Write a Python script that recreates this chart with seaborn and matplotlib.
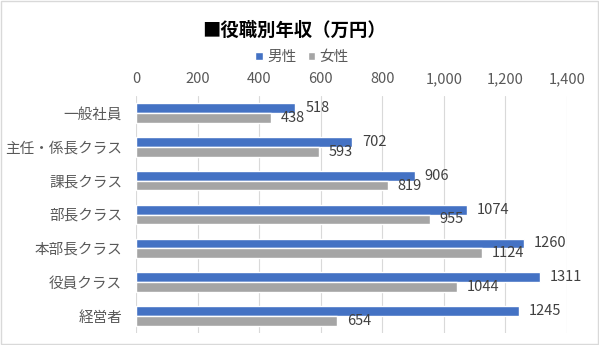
import matplotlib
matplotlib.use("Agg")
import matplotlib.pyplot as plt
import seaborn as sns
import pandas as pd
from matplotlib.ticker import FuncFormatter
from matplotlib.patches import Patch

categories = ["一般社員", "主任・係長クラス", "課長クラス", "部長クラス", "本部長クラス", "役員クラス", "経営者"]
male = [518, 702, 906, 1074, 1260, 1311, 1245]
female = [438, 593, 819, 955, 1124, 1044, 654]
series = ["男性", "女性"]
colors = ["#4472C4", "#A5A5A5"]

df = pd.DataFrame({
    "cat": categories * 2,
    "val": male + female,
    "sex": [series[0]] * len(categories) + [series[1]] * len(categories),
})

sns.set_theme(style="white")
plt.rcParams['font.family'] = ['Noto Sans CJK JP', 'DejaVu Sans']

fig = plt.figure(figsize=(5.99, 3.45), dpi=100)
ax = fig.add_axes([136/599, 1 - 333/345, (567-136)/599, (333-96)/345])

sns.barplot(data=df, x="val", y="cat", hue="sex", palette=colors, orient="h",
            width=0.58, ax=ax, legend=False, saturation=1)

for cont in ax.containers:
    ax.bar_label(cont, labels=[f"{int(v)}" for v in cont.datavalues], padding=7,
                 fontsize=10.5, color="#404040")

ax.set_xlim(0, 1400)
ax.set_xticks(range(0, 1401, 200))
ax.xaxis.set_major_formatter(FuncFormatter(lambda v, p: f"{int(v):,}"))
ax.xaxis.tick_top()
ax.tick_params(axis="x", length=0, labelsize=10.5, labelcolor="#595959", pad=7)
ax.tick_params(axis="y", length=0, labelsize=10.5, labelcolor="#595959", pad=10)
ax.set_xlabel("")
ax.set_ylabel("")
ax.grid(axis="x", color="#D9D9D9", linewidth=0.8)
ax.set_axisbelow(True)
for s in ax.spines.values():
    s.set_visible(False)
ax.set_ylim(6.5, -0.5)

fig.text(294/599, 1 - 30/345, "■役職別年収（万円）", ha="center", va="center",
         fontsize=13.2, fontweight="bold", color="#000000")

handles = [Patch(facecolor=c, label=s) for c, s in zip(colors, series)]
fig.legend(handles=handles, loc="center", bbox_to_anchor=(302/599, 1 - 57/345), ncol=2,
           frameon=False, fontsize=10.5, handlelength=0.5, handleheight=0.5,
           handletextpad=0.3, columnspacing=0.8, labelcolor="#595959")

fig.patches.append(plt.Rectangle((0.001, 0.002), 0.997, 0.995, transform=fig.transFigure,
                                 fill=False, edgecolor="#D9D9D9", linewidth=1))

fig.savefig("out.png", dpi=100)
